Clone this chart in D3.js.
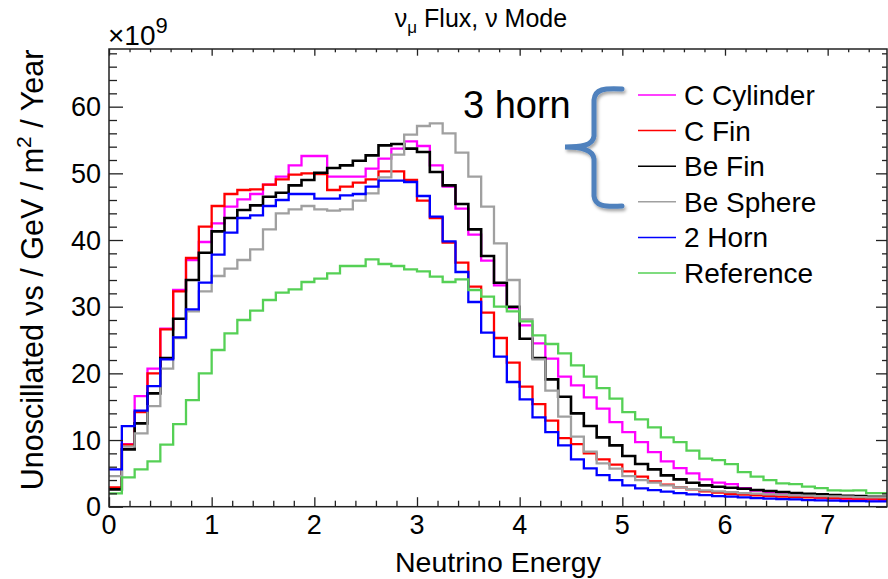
<!DOCTYPE html>
<html>
<head>
<meta charset="utf-8">
<script src="https://cdn.jsdelivr.net/npm/d3@7/dist/d3.min.js"></script>
<style>
  body { margin: 0; background: #fff; }
  svg { display: block; }
  text { font-family: "Liberation Sans", Arial, Helvetica, sans-serif; fill: #000; }
</style>
</head>
<body>
<svg id="chart" width="888" height="579"></svg>
<script>
// bin low edges in GeV (0.125 GeV bins)
const energyEdges = d3.range(0, 7.625, 0.125);

const cCylinder = [2.8, 9.4, 16.6, 20.7, 26.7, 32.5, 37.0, 39.7, 42.5, 45.0,
  46.1, 46.9, 48.3, 49.5, 51.2, 52.6, 52.6, 49.5, 49.5, 49.5,
  50.7, 52.2, 53.7, 54.8, 54.1, 51.2, 48.0, 44.7, 40.8, 36.9,
  33.2, 29.8, 27.2, 24.5, 22.2, 19.5, 18.2, 16.4, 14.7, 12.7,
  11.2, 9.7, 8.2, 6.8, 5.8, 5.0, 4.1, 3.6, 3.4, 2.8,
  2.4, 2.1, 1.9, 1.7, 1.5, 1.35, 1.25, 1.15, 1.1, 1.05, 1.0];

const cFin = [2.9, 9.3, 14.2, 20.0, 26.6, 32.3, 37.3, 42.0, 45.1, 46.9,
  47.5, 47.6, 48.3, 49.1, 49.8, 50.0, 49.9, 47.5, 48.0, 48.6,
  49.1, 50.3, 50.3, 49.0, 45.9, 43.3, 39.6, 36.6, 33.0, 29.1,
  25.3, 21.6, 18.0, 15.4, 12.9, 10.3, 9.4, 8.0, 7.1, 6.3,
  5.3, 4.5, 3.8, 3.3, 2.9, 2.6, 2.3, 2.1, 1.9, 1.8,
  1.7, 1.6, 1.5, 1.45, 1.4, 1.35, 1.3, 1.25, 1.2, 1.2, 1.15];

const beFin = [2.6, 8.6, 12.5, 17.0, 22.3, 28.2, 34.0, 38.1, 41.3, 43.3,
  44.5, 45.2, 46.5, 47.1, 48.2, 49.0, 50.1, 50.8, 51.2, 51.9,
  52.7, 54.2, 54.4, 53.7, 53.2, 50.2, 48.2, 45.4, 41.6, 37.6,
  33.6, 30.0, 25.2, 22.3, 19.1, 16.5, 14.0, 12.1, 10.4, 9.2,
  7.6, 6.4, 5.6, 4.7, 4.1, 3.6, 3.2, 3.0, 2.85, 2.7,
  2.5, 2.35, 2.2, 2.05, 1.95, 1.85, 1.75, 1.65, 1.6, 1.5, 1.5];

const beSphere = [4.6, 9.0, 11.0, 15.1, 20.7, 25.3, 29.3, 32.3, 34.6, 35.7,
  37.0, 38.6, 41.6, 44.0, 44.6, 45.1, 44.6, 44.4, 44.6, 45.9,
  47.0, 49.4, 52.8, 55.8, 57.1, 57.5, 56.0, 53.1, 49.5, 45.0,
  39.5, 34.0, 28.1, 22.1, 17.4, 13.5, 10.5, 8.25, 6.5, 5.7,
  4.6, 4.0, 3.6, 3.2, 2.9, 2.65, 2.45, 2.3, 2.2, 2.05,
  1.95, 1.85, 1.8, 1.7, 1.65, 1.6, 1.55, 1.5, 1.45, 1.4, 1.4];

const twoHorn = [5.6, 12.1, 14.4, 18.1, 22.1, 25.4, 29.6, 33.6, 37.8, 41.1,
  43.3, 43.7, 45.1, 46.0, 46.9, 46.9, 46.2, 46.2, 46.7, 46.9,
  48.0, 48.9, 48.9, 48.7, 46.6, 43.5, 39.8, 35.2, 30.7, 26.1,
  22.5, 18.7, 16.1, 13.4, 11.2, 9.2, 7.1, 5.75, 4.75, 4.0,
  3.2, 2.75, 2.5, 2.25, 2.05, 1.85, 1.75, 1.6, 1.5, 1.4,
  1.3, 1.2, 1.15, 1.1, 1.0, 0.95, 0.9, 0.85, 0.85, 0.8, 0.8];

const reference = [2.0, 4.4, 5.6, 6.8, 9.3, 12.4, 16.0, 20.0, 23.5, 26.0,
  28.0, 29.4, 31.0, 32.1, 32.6, 33.7, 34.2, 35.0, 36.1, 36.1,
  37.1, 36.4, 36.1, 35.6, 35.3, 34.5, 33.7, 34.1, 32.5, 31.5,
  30.0, 29.3, 27.8, 25.7, 24.4, 23.0, 21.2, 19.5, 17.8, 16.2,
  14.2, 13.1, 11.9, 10.4, 9.7, 8.4, 7.2, 7.0, 6.4, 5.2,
  4.5, 4.0, 3.5, 3.4, 3.0, 2.8, 2.45, 2.4, 2.45, 2.05, 2.05];

const seriesNames = ["C Cylinder", "C Fin", "Be Fin", "Be Sphere", "2 Horn", "Reference"];
const seriesValues = [cCylinder, cFin, beFin, beSphere, twoHorn, reference];
const seriesColors = ["#ff00ff", "#ff0000", "#000000", "#a0a0a0", "#0000ff", "#55d055"];

const xMajor = [0, 1, 2, 3, 4, 5, 6, 7];
const yMajor = [0, 10, 20, 30, 40, 50, 60];

const binWidth = 0.125;
const plot = { left: 109, right: 887, top: 49, bottom: 506.7 };

const svg = d3.select("#chart");

const x = d3.scaleLinear().domain([0, 7.578]).range([plot.left, plot.right]);
const y = d3.scaleLinear().domain([0, 68.65]).range([plot.bottom, plot.top]);

const xMinor = d3.range(0, 7.58, 0.2).filter(v => Math.abs(v - Math.round(v)) > 1e-6);
const yMinor = d3.range(0, 68.6, 2).filter(v => v % 10 !== 0);

svg.append("defs").append("clipPath").attr("id", "plotClip")
  .append("rect")
  .attr("x", plot.left).attr("y", plot.top)
  .attr("width", plot.right - plot.left).attr("height", plot.bottom - plot.top);

// histograms
const line = d3.line()
  .x(d => x(d[0]))
  .y(d => y(d[1]))
  .curve(d3.curveStepAfter);

const hists = svg.append("g").attr("clip-path", "url(#plotClip)");
seriesValues.forEach((vals, i) => {
  const pts = energyEdges.map((e, k) => [e, vals[k]]);
  pts.push([energyEdges[energyEdges.length - 1] + binWidth, vals[vals.length - 1]]);
  hists.append("path")
    .attr("d", line(pts))
    .attr("fill", "none")
    .attr("stroke", seriesColors[i])
    .attr("stroke-width", i === 2 ? 2.6 : 2.3);
});

// axes, ROOT style: ticks pointing inwards on all four sides
function tickAxis(axis, transform, size, values) {
  const g = svg.append("g")
    .attr("transform", transform)
    .call(axis.tickValues(values).tickSize(size).tickFormat(""));
  g.select(".domain").remove();
  g.selectAll("line").attr("stroke", "#222").attr("stroke-width", 1.3);
  return g;
}

tickAxis(d3.axisBottom(x), `translate(0,${plot.bottom})`, -9.5, xMajor);
tickAxis(d3.axisBottom(x), `translate(0,${plot.bottom})`, -6, xMinor);
tickAxis(d3.axisTop(x), `translate(0,${plot.top})`, -6.7, xMajor);
tickAxis(d3.axisTop(x), `translate(0,${plot.top})`, -3.3, xMinor);
tickAxis(d3.axisLeft(y), `translate(${plot.left},0)`, -14, yMajor);
tickAxis(d3.axisLeft(y), `translate(${plot.left},0)`, -8, yMinor);
tickAxis(d3.axisRight(y), `translate(${plot.right},0)`, -11, yMajor);
tickAxis(d3.axisRight(y), `translate(${plot.right},0)`, -5, yMinor);

svg.append("rect")
  .attr("x", plot.left).attr("y", plot.top)
  .attr("width", plot.right - plot.left).attr("height", plot.bottom - plot.top)
  .attr("fill", "none").attr("stroke", "#222").attr("stroke-width", 1.5);

// tick labels
svg.append("g").selectAll("text")
  .data(xMajor).join("text")
  .attr("x", d => x(d)).attr("y", 534)
  .attr("text-anchor", "middle")
  .attr("font-size", 27)
  .text(d => d);

svg.append("g").selectAll("text")
  .data(yMajor).join("text")
  .attr("x", 101).attr("y", d => y(d) + 9.5)
  .attr("text-anchor", "end")
  .attr("font-size", 27)
  .text(d => d);

// exponent
const expo = svg.append("text").attr("x", 108).attr("y", 45).attr("font-size", 28);
expo.append("tspan").text("×10");
expo.append("tspan").attr("font-size", 22).attr("dy", -12).text("9");

// title
const title = svg.append("text").attr("x", 481).attr("y", 27)
  .attr("text-anchor", "middle").attr("font-size", 25);
title.append("tspan").text("ν");
title.append("tspan").attr("font-size", 17).attr("dy", 6).text("μ");
title.append("tspan").attr("dy", -6).text(" Flux, ν Mode");

// axis titles
svg.append("text")
  .attr("x", 498).attr("y", 572)
  .attr("text-anchor", "middle").attr("font-size", 28.5)
  .text("Neutrino Energy");

const yTitle = svg.append("text")
  .attr("transform", "translate(43,270) rotate(-90)")
  .attr("text-anchor", "middle").attr("font-size", 30.5);
yTitle.append("tspan").text("Unoscillated νs / GeV / m");
yTitle.append("tspan").attr("font-size", 21).attr("dy", -12).text("2");
yTitle.append("tspan").attr("font-size", 30.5).attr("dy", 12).text(" / Year");

// legend
const legend = svg.append("g");
seriesNames.forEach((name, i) => {
  const ly = 95 + i * 35.6;
  legend.append("line")
    .attr("x1", 638).attr("x2", 676).attr("y1", ly).attr("y2", ly)
    .attr("stroke", seriesColors[i]).attr("stroke-width", 1.5);
  legend.append("text")
    .attr("x", 684).attr("y", ly + 10)
    .attr("font-size", 28)
    .text(name);
});

// "3 horn" annotation with brace
const filt = svg.select("defs").append("filter").attr("id", "shadow")
  .attr("x", "-30%").attr("y", "-10%").attr("width", "160%").attr("height", "130%");
filt.append("feDropShadow")
  .attr("dx", 1.5).attr("dy", 2.5).attr("stdDeviation", 1.6)
  .attr("flood-color", "#000").attr("flood-opacity", 0.35);

svg.append("path")
  .attr("d", "M622,89 C604,88 595,89 594,100 L594,136 C593,146 580,147 565,147 C580,147 593,149 594,159 L594,196 C595,206 604,207 622,206")
  .attr("fill", "none")
  .attr("stroke", "#4f81bd")
  .attr("stroke-width", 5)
  .attr("stroke-linecap", "round")
  .attr("filter", "url(#shadow)");

svg.append("text")
  .attr("x", 463).attr("y", 118)
  .attr("font-family", "Lato, 'Open Sans', sans-serif")
  .attr("font-size", 38)
  .text("3 horn");
</script>
</body>
</html>
